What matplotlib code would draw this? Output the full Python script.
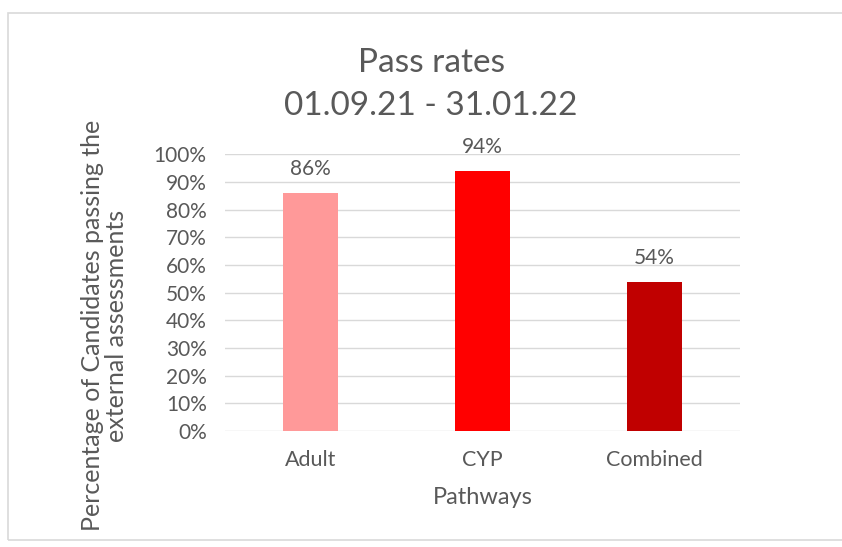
import numpy as np
import matplotlib.pyplot as plt
from matplotlib.patches import Rectangle

categories = ['Adult', 'CYP', 'Combined']
pass_rates = [86, 94, 54]
bar_colors = ['#FF9999', '#FF0000', '#C00000']
yticks = list(range(0, 101, 10))

plt.rcParams['font.family'] = ['Lato', 'DejaVu Sans']
grey = '#595959'

fig = plt.figure(figsize=(8.42, 5.47), dpi=100)
fig.patches.append(Rectangle((0.01, 0.012), 1.2, 0.965, transform=fig.transFigure,
                             fill=False, edgecolor='#D9D9D9', linewidth=1.2))
ax = fig.add_axes([0.267, 0.212, 0.612, 0.506])

x = np.arange(len(categories))
bars = ax.bar(x, pass_rates, width=0.32, color=bar_colors, zorder=3)
for xi, v in zip(x, pass_rates):
    ax.text(xi, v + 8.5, f'{v}%', ha='center', va='center', fontsize=15, color=grey)

ax.set_xlim(-0.5, 2.5)
ax.set_ylim(0, 100)
ax.set_yticks(yticks)
ax.set_yticklabels([f'{t}%' for t in yticks], fontsize=15, color=grey)
ax.set_xticks(x)
ax.set_xticklabels(categories, fontsize=15.5, color=grey)
ax.tick_params(axis='y', length=0, pad=13)
ax.tick_params(axis='x', length=0, pad=14)
ax.yaxis.grid(True, color='#D9D9D9', linewidth=1, zorder=0)
for s in ax.spines.values():
    s.set_visible(False)

ax.set_xlabel('Pathways', fontsize=17, color=grey, labelpad=12)
ax.set_ylabel('Percentage of Candidates passing the\nexternal assessments', fontsize=18,
              color=grey, linespacing=1.05)
ax.yaxis.set_label_coords(-0.188, 0.38)

fig.text(0.512, 0.885, 'Pass rates', ha='center', va='center', fontsize=24, color=grey)
fig.text(0.512, 0.807, '01.09.21 - 31.01.22', ha='center', va='center', fontsize=24, color=grey)

fig.savefig('out.png', dpi=100)
